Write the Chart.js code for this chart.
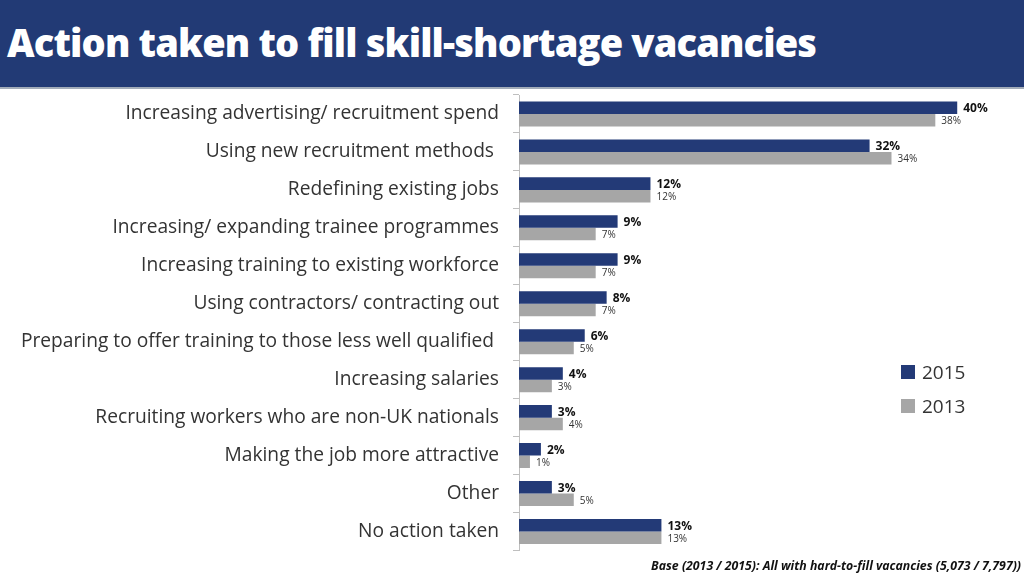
<!DOCTYPE html>
<html>
<head>
<meta charset="utf-8">
<script src="https://cdn.jsdelivr.net/npm/chart.js@4.4.1/dist/chart.umd.min.js"></script>
<style>
  html, body { margin: 0; padding: 0; background: #fff; }
  body { width: 1024px; height: 576px; position: relative; overflow: hidden; font-family: "Open Sans", sans-serif; }
  .header { position: absolute; left: 0; top: 0; width: 1024px; height: 87px; background: #223a75; border-bottom: 2px solid #a3acb9; }
  .header h1 { margin: 0; position: absolute; left: 7px; top: 16px; color: #fff; font-size: 38px; font-weight: 800; letter-spacing: -0.85px; white-space: nowrap; }
  #wrap { position: absolute; left: 0; top: 0; width: 1024px; height: 576px; }
  .legend { position: absolute; left: 901px; top: 355px; font-size: 19px; color: #333; }
  .legend div { height: 34px; display: flex; align-items: center; }
  .legend span.sw { display: inline-block; width: 14px; height: 14px; margin-right: 7px; }
  .note { position: absolute; right: 3px; top: 557px; font-size: 12.3px; font-weight: 700; font-style: italic; color: #111; }
</style>
</head>
<body>
<div class="header"><h1>Action taken to fill skill-shortage vacancies</h1></div>
<div id="wrap"><canvas id="chart" width="1024" height="576"></canvas></div>
<div class="legend">
  <div><span class="sw" style="background:#233a77"></span>2015</div>
  <div><span class="sw" style="background:#a6a6a6"></span>2013</div>
</div>
<div class="note">Base (2013 / 2015): All with hard-to-fill vacancies (5,073 / 7,797))</div>
<script>
const categories = [
  "Increasing advertising/ recruitment spend",
  "Using new recruitment methods ",
  "Redefining existing jobs",
  "Increasing/ expanding trainee programmes",
  "Increasing training to existing workforce",
  "Using contractors/ contracting out",
  "Preparing to offer training to those less well qualified ",
  "Increasing salaries",
  "Recruiting workers who are non-UK nationals",
  "Making the job more attractive",
  "Other",
  "No action taken"
];
const values2015 = [40, 32, 12, 9, 9, 8, 6, 4, 3, 2, 3, 13];
const values2013 = [38, 34, 12, 7, 7, 7, 5, 3, 4, 1, 5, 13];

const navy = "#233a77";
const grey = "#a6a6a6";

// value labels at bar ends
const barLabels = {
  id: "barLabels",
  afterDatasetsDraw(chart) {
    const ctx = chart.ctx;
    ctx.save();
    ctx.textAlign = "left";
    ctx.textBaseline = "middle";
    chart.data.datasets.forEach((ds, i) => {
      const meta = chart.getDatasetMeta(i);
      ctx.font = i === 0 ? "bold 12px 'Open Sans'" : "10px 'Open Sans'";
      ctx.fillStyle = i === 0 ? "#111" : "#333";
      meta.data.forEach((bar, j) => {
        ctx.fillText(ds.data[j] + "%", bar.x + 6, bar.y + 1);
      });
    });
    ctx.restore();
  }
};

new Chart(document.getElementById("chart"), {
  type: "bar",
  data: {
    labels: categories,
    datasets: [
      { label: "2015", data: values2015, backgroundColor: navy },
      { label: "2013", data: values2013, backgroundColor: grey }
    ]
  },
  options: {
    indexAxis: "y",
    responsive: false,
    animation: false,
    layout: { padding: { top: 95, bottom: 25, left: 0, right: 12 } },
    datasets: { bar: { categoryPercentage: 0.66, barPercentage: 1 } },
    plugins: { legend: { display: false }, tooltip: { enabled: false } },
    scales: {
      x: { display: false, min: 0, max: 45 },
      y: {
        afterFit(scale) { scale.width = 519; },
        border: { color: "#bfbfbf" },
        grid: { drawOnChartArea: false, tickLength: 6, color: "#bfbfbf", offset: true },
        ticks: { color: "#333", font: { family: "Open Sans", size: 19.2 }, padding: 14 }
      }
    }
  },
  plugins: [barLabels]
});
</script>
</body>
</html>
